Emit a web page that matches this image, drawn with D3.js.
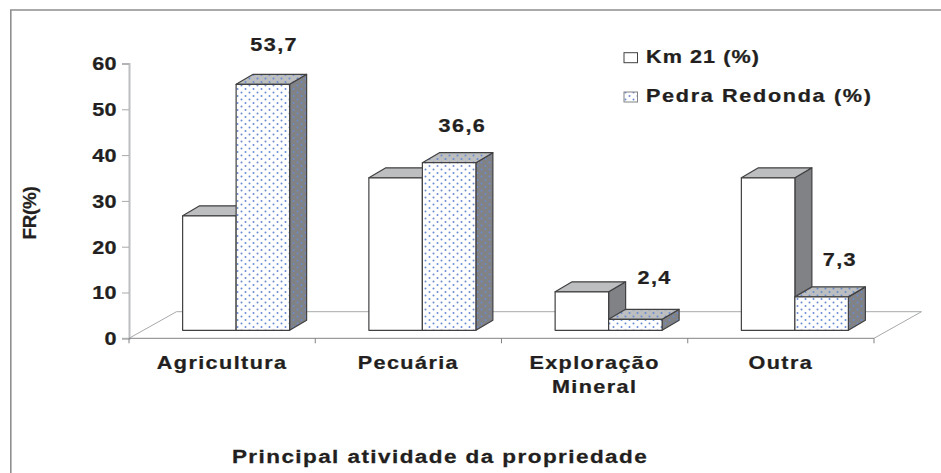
<!DOCTYPE html>
<html><head><meta charset="utf-8">
<script src="https://cdn.jsdelivr.net/npm/d3@7"></script>
<style>html,body{margin:0;padding:0;background:#fff}svg{display:block}text{font-family:"Liberation Sans",Arial,sans-serif;font-weight:bold;fill:#231f20;stroke:#231f20;stroke-width:.25px}</style>
</head><body><div id="c"></div>
<script>
const categories=[["Agricultura"],["Pecuária"],["Exploração","Mineral"],["Outra"]];
const km21=[25,33.3,8.4,33.3];
const pedra=[53.7,36.6,2.4,7.3];
const pedraLabels=["53,7","36,6","2,4","7,3"];
const yTicks=[0,10,20,30,40,50,60];
const seriesNames=["Km 21 (%)","Pedra Redonda (%)"];

const W=941,H=473;
const svg=d3.select("#c").append("svg").attr("width",W).attr("height",H);
const defs=svg.append("defs");
function pat(id,bg){
  const p=defs.append("pattern").attr("id",id).attr("patternUnits","userSpaceOnUse").attr("width",8).attr("height",7);
  p.append("rect").attr("width",8).attr("height",7).attr("fill",bg);
  p.append("circle").attr("cx",1.5).attr("cy",1.5).attr("r",1).attr("fill","#6a8bd0");
  p.append("circle").attr("cx",5.5).attr("cy",5).attr("r",1).attr("fill","#6a8bd0");
}
pat("pF","#ffffff");pat("pT","#bcbec0");pat("pS","#808285");

svg.append("path").attr("d","M10.8,473V10H941").attr("fill","none").attr("stroke","#8f8f8f").attr("stroke-width",1.6);

const x=d3.scaleBand().domain(d3.range(categories.length)).range([129,874]);
const y=d3.scaleLinear().domain([0,60]).range([338.3,63.5]);
const floorD={dx:47.5,dy:-26.6}, barD={dx:14,dy:-8}, depth={dx:17,dy:-10};

// wide lettering, as in the original: horizontally stretched bold type
function wide(sel,px,py,size,sx,ls,anchor){
  sel.attr("transform",`translate(${px},${py}) scale(${sx},1)`).attr("x",0).attr("y",0)
     .attr("font-size",size).attr("text-anchor",anchor||"middle").style("letter-spacing",ls+"px");
  return sel;
}

// floor
svg.append("path").attr("d",`M${x.range()[0]},${y(0)}L${x.range()[0]+floorD.dx},${y(0)+floorD.dy}H${x.range()[1]+floorD.dx}L${x.range()[1]},${y(0)}`)
  .attr("fill","none").attr("stroke","#a7a9ac").attr("stroke-width",1);

// axes
const yAxis=d3.axisLeft(y).tickValues(yTicks).tickSize(7).tickPadding(5);
const gy=svg.append("g").attr("transform","translate(129,0)").call(yAxis);
gy.select(".domain").attr("stroke","#bcbec0").attr("stroke-width",2);
gy.selectAll(".tick line").attr("stroke","#a7a9ac");
gy.selectAll(".tick text").each(function(){
  wide(d3.select(this),-12,6.3,18,1.2,0.3,"end").attr("dy",null).attr("fill","#231f20");
});
gy.attr("font-family",null).attr("font-size",null);
svg.append("line").attr("x1",129).attr("x2",874).attr("y1",y(0)).attr("y2",y(0)).attr("stroke","#808285");
const xt=[...x.domain().map(i=>x(i)),874];
svg.selectAll(".xt").data(xt).join("line").attr("x1",d=>d).attr("x2",d=>d).attr("y1",y(0)).attr("y2",y(0)+5).attr("stroke","#808285");

// bars
const base=y(0)+barD.dy;
const h=v=>y(0)-y(v);
const groupW=107;
function bar(bx,w,v,fF,fT,fS){
  const t=base-h(v);
  const g=svg.append("g").attr("stroke","#414042").attr("stroke-width",1.2).attr("stroke-linejoin","round");
  g.append("path").attr("fill",fS).attr("d",`M${bx+w},${base}V${t}l${depth.dx},${depth.dy}V${base+depth.dy}Z`);
  g.append("path").attr("fill",fT).attr("d",`M${bx},${t}l${depth.dx},${depth.dy}H${bx+w+depth.dx}l${-depth.dx},${-depth.dy}Z`);
  g.append("rect").attr("x",bx).attr("y",t).attr("width",w).attr("height",base-t).attr("fill",fF);
}
categories.forEach((c,i)=>{
  const bx=x(i)+x.bandwidth()/2-groupW/2+barD.dx;
  const bw=groupW/2;
  bar(bx,bw,km21[i],"#fff","#bcbec0","#808285");
  bar(bx+bw,bw,pedra[i],"url(#pF)","url(#pT)","url(#pS)");
});

// value labels
const labelDx=[52,54,60,59], labelDy=[-41.5,-38.7,-43.3,-39];
svg.selectAll(".vl").data(pedraLabels).join("text").attr("class","vl").text(d=>d)
  .each(function(d,i){
    wide(d3.select(this),x(i)+x.bandwidth()/2+labelDx[i],y(pedra[i])+labelDy[i],18,1.2,1.2);
  });

// category labels
categories.forEach((c,i)=>{
  c.forEach((s,j)=>{
    wide(svg.append("text").text(s),x(i)+x.bandwidth()/2,368.5+j*24,18,1.2,1.17);
  });
});

// axis titles
svg.append("text").text("FR(%)")
  .attr("transform","translate(35.5,213) rotate(-90) scale(1.05,1)").attr("text-anchor","middle").attr("font-size",18).style("letter-spacing","-0.3px");
wide(svg.append("text").text("Principal atividade da propriedade"),440,463,18,1.25,1.15);

// legend
const lg=svg.append("g");
lg.append("rect").attr("x",624).attr("y",52.7).attr("width",13.5).attr("height",10).attr("fill","#fff").attr("stroke","#414042");
lg.append("rect").attr("x",624).attr("y",92).attr("width",13.5).attr("height",10).attr("fill","url(#pF)").attr("stroke","#808285");
lg.selectAll("text").data(seriesNames).join("text").text(d=>d).each(function(d,i){
  wide(d3.select(this),646,63+i*39.2,18,1.2,i?1.4:0.9,"start");
});
</script></body></html>
